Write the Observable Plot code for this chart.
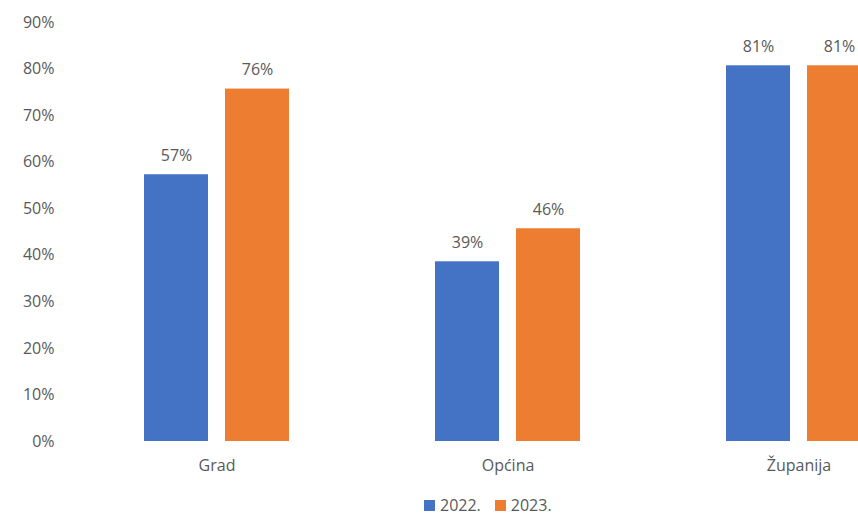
<!DOCTYPE html>
<html>
<head>
<meta charset="utf-8">
<script src="https://cdn.jsdelivr.net/npm/d3@7"></script>
<script src="https://cdn.jsdelivr.net/npm/@observablehq/plot@0.6"></script>
<style>
  html, body { margin: 0; padding: 0; background: #fff; overflow: hidden; }
  #wrap { width: 858px; height: 517px; overflow: hidden; position: relative; font-family: "Open Sans", sans-serif; }
  #chart svg { max-width: none !important; }
  #legend { position: absolute; top: 494px; left: 424px; display: flex; align-items: center; font-size: 16px; line-height: 22px; color: #595959; white-space: nowrap; }
  #legend .sw { width: 11px; height: 11px; display: inline-block; margin-right: 5px; }
  #legend .item { display: flex; align-items: center; margin-right: 14px; }
</style>
</head>
<body>
<div id="wrap">
  <div id="chart"></div>
  <div id="legend"></div>
</div>
<script>
const categories = ["Grad", "Općina", "Županija"];
const years = ["2022.", "2023."];
const values2022 = [0.573, 0.386, 0.807];
const values2023 = [0.757, 0.457, 0.807];
const colors = ["#4472C4", "#ED7D31"];
const yTicks = [0, 0.1, 0.2, 0.3, 0.4, 0.5, 0.6, 0.7, 0.8, 0.9];

const data = [];
categories.forEach((c, i) => {
  data.push({category: c, year: years[0], value: values2022[i]});
  data.push({category: c, year: years[1], value: values2023[i]});
});

const fmt = d3.format(".0%");

const chart = Plot.plot({
  width: 944,
  height: 490,
  marginLeft: 70,
  marginRight: 0,
  marginTop: 22,
  marginBottom: 49,
  style: {fontFamily: "Open Sans, sans-serif", fontSize: "16px", color: "#595959", background: "#fff", maxWidth: "none"},
  fx: {domain: categories, padding: 0, label: null},
  x: {domain: years, paddingInner: 0.207, paddingOuter: 0.88, axis: null},
  y: {domain: [0, 0.9], label: null},
  color: {domain: years, range: colors},
  marks: [
    Plot.axisY({ticks: yTicks, tickFormat: d => fmt(d), tickSize: 0, tickPadding: 17, label: null, fill: "#595959", fontSize: 16}),
    Plot.axisFx({anchor: "bottom", tickSize: 0, tickPadding: 18, label: null, fill: "#595959", fontSize: 16}),
    Plot.barY(data, {fx: "category", x: "year", y: "value", fill: "year"}),
    Plot.text(data, {fx: "category", x: "year", y: "value", text: d => fmt(d.value), lineAnchor: "bottom", dy: -14, fill: "#595959", fontSize: 16})
  ]
});
document.getElementById("chart").appendChild(chart);

const legend = document.getElementById("legend");
years.forEach((y, i) => {
  const item = document.createElement("span");
  item.className = "item";
  const sw = document.createElement("span");
  sw.className = "sw";
  sw.style.background = colors[i];
  item.appendChild(sw);
  item.appendChild(document.createTextNode(y));
  legend.appendChild(item);
});
</script>
</body>
</html>
